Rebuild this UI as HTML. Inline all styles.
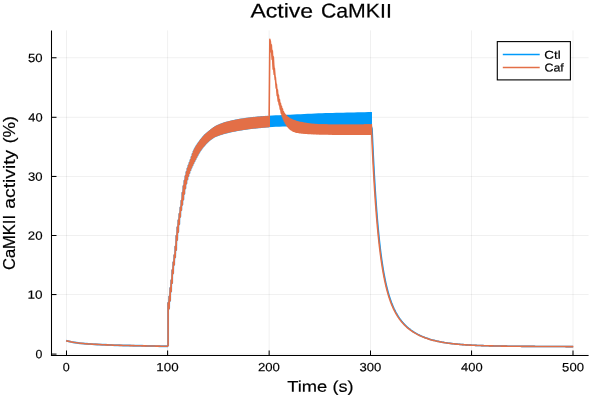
<!DOCTYPE html>
<html><head><meta charset="utf-8"><title>Active CaMKII</title>
<style>html,body{margin:0;padding:0;background:#fff;width:600px;height:400px;overflow:hidden}svg text{font-family:"Liberation Sans",sans-serif}</style>
</head><body>
<svg width="600" height="400" viewBox="0 0 600 400" style="display:block;will-change:transform">
<rect x="0" y="0" width="600" height="400" fill="#ffffff"/>
<line x1="66.5" y1="30.4" x2="66.5" y2="355.4" stroke="#000000" stroke-opacity="0.06" stroke-width="1"/>
<line x1="167.6" y1="30.4" x2="167.6" y2="355.4" stroke="#000000" stroke-opacity="0.06" stroke-width="1"/>
<line x1="269.15" y1="30.4" x2="269.15" y2="355.4" stroke="#000000" stroke-opacity="0.06" stroke-width="1"/>
<line x1="370.5" y1="30.4" x2="370.5" y2="355.4" stroke="#000000" stroke-opacity="0.06" stroke-width="1"/>
<line x1="471.55" y1="30.4" x2="471.55" y2="355.4" stroke="#000000" stroke-opacity="0.06" stroke-width="1"/>
<line x1="573.0" y1="30.4" x2="573.0" y2="355.4" stroke="#000000" stroke-opacity="0.06" stroke-width="1"/>
<line x1="51.5" y1="354.1" x2="588.6" y2="354.1" stroke="#000000" stroke-opacity="0.06" stroke-width="1"/>
<line x1="51.5" y1="294.55" x2="588.6" y2="294.55" stroke="#000000" stroke-opacity="0.06" stroke-width="1"/>
<line x1="51.5" y1="235.5" x2="588.6" y2="235.5" stroke="#000000" stroke-opacity="0.06" stroke-width="1"/>
<line x1="51.5" y1="176.45" x2="588.6" y2="176.45" stroke="#000000" stroke-opacity="0.06" stroke-width="1"/>
<line x1="51.5" y1="117.3" x2="588.6" y2="117.3" stroke="#000000" stroke-opacity="0.06" stroke-width="1"/>
<line x1="51.5" y1="57.75" x2="588.6" y2="57.75" stroke="#000000" stroke-opacity="0.06" stroke-width="1"/>
<g fill="none" stroke-linejoin="round" stroke-linecap="butt">
<path d="M66.10,340.70 L67.83,341.11 L69.56,341.49 L71.29,341.85 L73.02,342.17 L74.74,342.46 L76.47,342.72 L78.20,342.96 L79.93,343.18 L81.66,343.38 L83.39,343.56 L85.12,343.71 L86.85,343.84 L88.57,343.95 L90.30,344.05 L92.03,344.14 L93.76,344.23 L95.49,344.33 L97.22,344.42 L98.95,344.51 L100.68,344.60 L102.41,344.68 L104.13,344.76 L105.86,344.84 L107.59,344.91 L109.32,344.99 L111.05,345.06 L112.78,345.12 L114.51,345.18 L116.24,345.24 L117.96,345.29 L119.69,345.34 L121.42,345.38 L123.15,345.43 L124.88,345.47 L126.61,345.51 L128.34,345.55 L130.07,345.59 L131.79,345.63 L133.52,345.67 L135.25,345.70 L136.98,345.74 L138.71,345.77 L140.44,345.81 L142.17,345.84 L143.90,345.88 L145.63,345.91 L147.35,345.95 L149.08,345.98 L150.81,346.01 L152.54,346.04 L154.27,346.07 L156.00,346.11 L157.73,346.14 L159.46,346.16 L161.18,346.19 L162.91,346.22 L164.64,346.25 L166.37,346.27 L168.10,346.30" stroke="#009AFA" stroke-width="1.9500000000000002" stroke-opacity="0.8"/>
<path d="M168.10,346.30 L168.10,302.93 L169.11,308.60 L169.23,296.47 L170.13,300.74 L170.25,287.99 L171.14,291.55 L171.26,280.21 L172.15,283.11 L172.27,270.10 L173.17,273.36 L173.29,262.20 L174.18,264.66 L174.30,255.13 L175.20,257.30 L175.32,246.55 L176.21,250.05 L176.33,235.70 L177.22,239.94 L177.34,227.25 L178.24,232.09 L178.36,220.22 L179.25,224.24 L179.37,213.87 L180.26,216.81 L180.38,207.46 L181.28,210.20 L181.40,200.65 L182.29,204.71 L182.41,192.70 L183.30,199.47 L183.42,186.12 L184.32,193.71 L184.44,180.78 L185.33,188.36 L185.45,176.08 L186.34,183.52 L186.46,171.98 L187.36,179.38 L187.48,168.48 L188.37,175.94 L188.49,165.55 L189.39,172.91 L189.51,162.81 L190.40,170.17 L190.52,160.02 L191.41,167.68 L191.53,157.00 L192.43,165.43 L192.55,153.98 L193.44,163.33 L193.56,151.34 L194.45,161.31 L194.57,149.18 L195.47,159.33 L195.59,147.36 L196.48,157.35 L196.60,145.73 L197.49,155.42 L197.61,144.22 L198.51,153.56 L198.63,142.78 L199.52,151.81 L199.64,141.39 L200.53,150.19 L200.65,140.03 L201.55,148.71 L201.67,138.72 L202.56,147.37 L202.68,137.49 L203.58,146.12 L203.70,136.35 L204.59,144.96 L204.71,135.29 L205.60,143.85 L205.72,134.33 L206.62,142.78 L206.74,133.43 L207.63,141.77 L207.75,132.58 L208.64,140.83 L208.76,131.76 L209.66,139.96 L209.78,130.95 L210.67,139.16 L210.79,130.15 L211.68,138.42 L211.80,129.36 L212.70,137.73 L212.82,128.58 L213.71,137.11 L213.83,127.85 L214.72,136.57 L214.84,127.20 L215.74,136.09 L215.86,126.62 L216.75,135.66 L216.87,126.10 L217.77,135.27 L217.89,125.64 L218.78,134.90 L218.90,125.20 L219.79,134.55 L219.91,124.78 L220.81,134.21 L220.93,124.37 L221.82,133.90 L221.94,123.98 L222.83,133.60 L222.95,123.60 L223.85,133.31 L223.97,123.25 L224.86,133.03 L224.98,122.92 L225.87,132.75 L225.99,122.62 L226.89,132.47 L227.01,122.34 L227.90,132.20 L228.02,122.08 L228.91,131.95 L229.03,121.83 L229.93,131.72 L230.05,121.59 L230.94,131.50 L231.06,121.36 L231.96,131.28 L232.08,121.13 L232.97,131.08 L233.09,120.91 L233.98,130.88 L234.10,120.70 L235.00,130.69 L235.12,120.49 L236.01,130.50 L236.13,120.29 L237.02,130.32 L237.14,120.10 L238.04,130.14 L238.16,119.91 L239.05,129.97 L239.17,119.73 L240.06,129.80 L240.18,119.56 L241.08,129.63 L241.20,119.40 L242.09,129.47 L242.21,119.24 L243.10,129.30 L243.22,119.08 L244.12,129.14 L244.24,118.94 L245.13,128.99 L245.25,118.79 L246.15,128.84 L246.27,118.65 L247.16,128.69 L247.28,118.52 L248.17,128.55 L248.29,118.39 L249.19,128.42 L249.31,118.27 L250.20,128.29 L250.32,118.15 L251.21,128.16 L251.33,118.03 L252.23,128.04 L252.35,117.92 L253.24,127.92 L253.36,117.81 L254.25,127.81 L254.37,117.71 L255.27,127.69 L255.39,117.60 L256.28,127.59 L256.40,117.50 L257.30,127.48 L257.42,117.41 L258.31,127.38 L258.43,117.32 L259.32,127.28 L259.44,117.23 L260.34,127.19 L260.46,117.14 L261.35,127.09 L261.47,117.06 L262.36,127.00 L262.48,116.98 L263.38,126.92 L263.50,116.91 L264.39,126.83 L264.51,116.83 L265.40,126.75 L265.52,116.76 L266.42,126.67 L266.54,116.69 L267.43,126.59 L267.55,116.62 L268.44,126.52 L268.56,116.56" stroke="#009AFA" stroke-width="1.9000000000000001" stroke-opacity="0.8"/>
<path d="M268.70,115.70 L272.26,115.52 L275.81,115.33 L279.37,115.15 L282.92,114.98 L286.48,114.80 L290.03,114.63 L293.59,114.47 L297.14,114.30 L300.70,114.13 L304.25,113.96 L307.81,113.80 L311.36,113.64 L314.92,113.49 L318.47,113.35 L322.03,113.23 L325.58,113.12 L329.14,113.01 L332.69,112.92 L336.25,112.82 L339.80,112.73 L343.36,112.64 L346.91,112.55 L350.47,112.47 L354.02,112.38 L357.58,112.30 L361.13,112.22 L364.69,112.14 L368.24,112.07 L371.80,112.00 L371.80,125.50 L368.24,125.53 L364.69,125.55 L361.13,125.58 L357.58,125.61 L354.02,125.64 L350.47,125.68 L346.91,125.71 L343.36,125.74 L339.80,125.78 L336.25,125.82 L332.69,125.86 L329.14,125.90 L325.58,125.94 L322.03,125.98 L318.47,126.02 L314.92,126.06 L311.36,126.10 L307.81,126.14 L304.25,126.18 L300.70,126.22 L297.14,126.28 L293.59,126.33 L290.03,126.39 L286.48,126.47 L282.92,126.56 L279.37,126.68 L275.81,126.84 L272.26,127.02 L268.70,127.20Z" fill="#009AFA" stroke="none"/>
<path d="M371.10,112.30 L371.10,126.00 L372.04,128.73 L372.24,133.25 L372.43,137.66 L372.62,141.96 L372.81,146.14 L373.01,150.22 L373.20,154.20 L373.39,158.07 L373.58,161.85 L373.78,165.53 L373.97,169.12 L374.16,172.62 L374.35,176.03 L374.55,179.36 L374.74,182.60 L374.93,185.77 L375.12,188.85 L375.32,191.86 L375.51,194.80 L375.70,197.66 L375.89,200.45 L376.09,203.18 L376.28,205.84 L376.47,208.43 L376.67,210.96 L376.86,213.43 L377.05,215.84 L377.24,218.20 L377.44,220.49 L377.63,222.74 L377.82,224.93 L378.01,227.06 L378.21,229.15 L378.40,231.19 L378.59,233.18 L378.78,235.12 L378.98,237.02 L379.17,238.88 L379.36,240.69 L379.55,242.46 L379.75,244.19 L379.94,245.88 L380.13,247.53 L380.33,249.15 L380.52,250.73 L380.71,252.27 L380.90,253.78 L381.10,255.26 L381.29,256.70 L381.48,258.11 L381.67,259.49 L381.87,260.84 L382.06,262.16 L382.25,263.45 L382.44,264.72 L382.64,265.95 L382.83,267.17 L383.02,268.35 L383.21,269.51 L383.41,270.65 L383.60,271.76 L383.79,272.84 L383.98,273.91 L384.18,274.95 L384.37,275.98 L384.56,276.98 L384.76,277.96 L384.95,278.92 L385.14,279.86 L385.33,280.79 L385.53,281.69 L385.72,282.58 L385.91,283.45 L386.10,284.30 L386.30,285.13 L386.49,285.95 L386.68,286.76 L386.87,287.54 L387.07,288.32 L387.26,289.08 L387.45,289.82 L387.64,290.55 L387.84,291.27 L388.03,291.97 L388.22,292.66 L388.42,293.34 L388.61,294.00 L388.80,294.66 L388.99,295.30 L389.19,295.93 L389.38,296.55 L389.57,297.15 L389.76,297.75 L389.96,298.34 L390.15,298.91 L390.34,299.48 L390.53,300.04 L390.73,300.59 L390.92,301.12 L391.11,301.65 L391.30,302.17 L391.50,302.68 L391.69,303.19 L391.88,303.68 L392.07,304.17 L392.27,304.65 L392.46,305.12 L392.65,305.58 L392.85,306.04 L393.04,306.49 L393.23,306.93 L393.42,307.36 L393.62,307.79 L393.81,308.21 L394.00,308.63 L394.19,309.04 L394.39,309.44 L394.58,309.84 L394.77,310.23 L394.96,310.61 L395.16,310.99 L395.35,311.37 L395.54,311.73 L395.73,312.10 L395.93,312.45 L396.12,312.81 L396.31,313.15 L396.51,313.50 L396.70,313.84 L396.89,314.17 L397.08,314.50 L397.28,314.82 L397.47,315.14 L397.66,315.46 L397.85,315.77 L398.05,316.07 L398.24,316.38 L398.43,316.67 L398.62,316.97 L398.82,317.26 L399.01,317.55 L399.20,317.83 L399.39,318.11 L399.59,318.39 L399.78,318.66 L399.97,318.93 L400.16,319.19 L400.36,319.45 L400.55,319.71 L400.85,320.11 L401.72,321.22 L402.59,322.27 L403.46,323.27 L404.33,324.21 L405.20,325.11 L406.07,325.96 L406.94,326.78 L407.81,327.55 L408.68,328.29 L409.55,329.00 L410.42,329.67 L411.29,330.32 L412.16,330.94 L413.03,331.53 L413.90,332.09 L414.77,332.63 L415.64,333.15 L416.51,333.65 L417.38,334.13 L418.25,334.59 L419.12,335.03 L419.99,335.45 L420.86,335.86 L421.73,336.25 L422.60,336.62 L423.47,336.98 L424.34,337.33 L425.21,337.66 L426.08,337.98 L426.95,338.29 L427.82,338.59 L428.69,338.88 L429.56,339.15 L430.42,339.41 L431.29,339.67 L432.16,339.91 L433.03,340.15 L433.90,340.38 L434.77,340.59 L435.64,340.81 L436.51,341.01 L437.38,341.20 L438.25,341.39 L439.12,341.57 L439.99,341.75 L440.86,341.91 L441.73,342.08 L442.60,342.23 L443.47,342.38 L444.34,342.53 L445.21,342.67 L446.08,342.80 L446.95,342.93 L447.82,343.05 L448.69,343.17 L449.56,343.29 L450.43,343.40 L451.30,343.51 L452.17,343.61 L453.04,343.71 L453.91,343.81 L454.78,343.90 L455.65,343.99 L456.52,344.08 L457.39,344.16 L458.26,344.24 L459.13,344.32 L460.00,344.39 L460.87,344.47 L461.74,344.53 L462.61,344.60 L463.48,344.67 L464.35,344.73 L465.22,344.79 L466.09,344.85 L466.96,344.90 L467.83,344.96 L468.70,345.01 L469.57,345.06 L470.44,345.11 L471.31,345.15 L472.18,345.20 L473.05,345.24 L473.92,345.28 L474.79,345.32 L475.66,345.36 L476.53,345.40 L477.40,345.44 L478.27,345.47 L479.14,345.51 L480.01,345.54 L480.88,345.57 L481.75,345.60 L482.62,345.63 L483.49,345.66 L484.36,345.69 L485.23,345.72 L486.10,345.74 L486.97,345.77 L487.83,345.79 L488.70,345.81 L489.57,345.84 L490.44,345.86 L491.31,345.88 L492.18,345.90 L493.05,345.92 L493.92,345.94 L494.79,345.96 L495.66,345.98 L496.53,345.99 L497.40,346.01 L498.27,346.03 L499.14,346.04 L500.01,346.06 L500.88,346.07 L501.75,346.09 L502.62,346.10 L503.49,346.12 L504.36,346.13 L505.23,346.14 L506.10,346.15 L506.97,346.17 L507.84,346.18 L508.71,346.19 L509.58,346.20 L510.45,346.21 L511.32,346.22 L512.19,346.23 L513.06,346.24 L513.93,346.25 L514.80,346.26 L515.67,346.27 L516.54,346.28 L517.41,346.29 L518.28,346.30 L519.15,346.30 L520.02,346.31 L520.89,346.32 L521.76,346.33 L522.63,346.34 L523.50,346.34 L524.37,346.35 L525.24,346.36 L526.11,346.36 L526.98,346.37 L527.85,346.38 L528.72,346.38 L529.59,346.39 L530.46,346.40 L531.33,346.40 L532.20,346.41 L533.07,346.41 L533.94,346.42 L534.81,346.42 L535.68,346.43 L536.55,346.44 L537.42,346.44 L538.29,346.45 L539.16,346.45 L540.03,346.46 L540.90,346.46 L541.77,346.47 L542.64,346.47 L543.51,346.47 L544.38,346.48 L545.24,346.48 L546.11,346.49 L546.98,346.49 L547.85,346.50 L548.72,346.50 L549.59,346.51 L550.46,346.51 L551.33,346.51 L552.20,346.52 L553.07,346.52 L553.94,346.53 L554.81,346.53 L555.68,346.53 L556.55,346.54 L557.42,346.54 L558.29,346.55 L559.16,346.55 L560.03,346.55 L560.90,346.56 L561.77,346.56 L562.64,346.56 L563.51,346.57 L564.38,346.57 L565.25,346.57 L566.12,346.58 L566.99,346.58 L567.86,346.58 L568.73,346.59 L569.60,346.59 L570.47,346.59 L571.34,346.60 L572.21,346.60 L573.08,346.60" stroke="#009AFA" stroke-width="1.6"/>
<path d="M66.10,340.70 L67.83,341.11 L69.56,341.49 L71.29,341.85 L73.02,342.17 L74.74,342.46 L76.47,342.72 L78.20,342.96 L79.93,343.18 L81.66,343.38 L83.39,343.56 L85.12,343.71 L86.85,343.84 L88.57,343.95 L90.30,344.05 L92.03,344.14 L93.76,344.23 L95.49,344.33 L97.22,344.42 L98.95,344.51 L100.68,344.60 L102.41,344.68 L104.13,344.76 L105.86,344.84 L107.59,344.91 L109.32,344.99 L111.05,345.06 L112.78,345.12 L114.51,345.18 L116.24,345.24 L117.96,345.29 L119.69,345.34 L121.42,345.38 L123.15,345.43 L124.88,345.47 L126.61,345.51 L128.34,345.55 L130.07,345.59 L131.79,345.63 L133.52,345.67 L135.25,345.70 L136.98,345.74 L138.71,345.77 L140.44,345.81 L142.17,345.84 L143.90,345.88 L145.63,345.91 L147.35,345.95 L149.08,345.98 L150.81,346.01 L152.54,346.04 L154.27,346.07 L156.00,346.11 L157.73,346.14 L159.46,346.16 L161.18,346.19 L162.91,346.22 L164.64,346.25 L166.37,346.27 L168.10,346.30" stroke="#E36F47" stroke-width="1.6"/>
<path d="M167.98,328.57 L167.98,327.12 L167.98,325.68 L167.98,324.23 L167.98,322.79 L167.98,321.35 L167.98,319.91 L167.98,318.47 L167.98,317.03 L167.98,315.59 L167.98,314.16 L167.98,312.72 L167.98,311.28 L167.98,309.85 L167.98,308.41 L167.98,306.98 L167.98,305.56 L168.02,304.19 L168.24,302.83 L168.54,301.41 L168.79,299.96 L168.99,298.51 L169.16,297.07 L169.33,295.63 L169.50,294.19 L169.66,292.76 L169.82,291.32 L170.00,289.89 L170.18,288.47 L170.38,287.04 L170.57,285.61 L170.76,284.17 L170.95,282.74 L171.13,281.30 L171.30,279.86 L171.45,278.41 L171.60,276.97 L171.73,275.53 L171.87,274.09 L172.01,272.66 L172.15,271.23 L172.31,269.80 L172.48,268.37 L172.66,266.94 L172.84,265.51 L173.03,264.08 L173.23,262.65 L173.42,261.22 L173.62,259.79 L173.82,258.36 L174.03,256.94 L174.24,255.51 L174.46,254.07 L174.66,252.64 L174.85,251.19 L175.01,249.75 L175.16,248.30 L175.29,246.86 L175.41,245.42 L175.53,243.98 L175.65,242.54 L175.78,241.10 L175.92,239.67 L176.06,238.24 L176.21,236.80 L176.36,235.37 L176.52,233.93 L176.69,232.50 L176.86,231.07 L177.03,229.64 L177.21,228.21 L177.41,226.78 L177.60,225.36 L177.81,223.93 L178.02,222.50 L178.23,221.07 L178.44,219.65 L178.66,218.22 L178.89,216.80 L179.12,215.38 L179.36,213.95 L179.59,212.52 L179.82,211.09 L180.04,209.67 L180.26,208.24 L180.48,206.81 L180.70,205.38 L180.92,203.95 L181.13,202.52 L181.34,201.08 L181.54,199.65 L181.72,198.21 L181.90,196.77 L182.08,195.34 L182.26,193.91 L182.44,192.48 L182.63,191.06 L182.84,189.64 L183.07,188.22 L183.31,186.80 L183.56,185.38 L183.82,183.96 L184.09,182.55 L184.36,181.14 L184.65,179.73 L184.95,178.32 L185.26,176.91 L185.58,175.51 L185.92,174.11 L186.27,172.72 L186.64,171.34 L187.02,169.96 L187.44,168.60 L187.89,167.25 L188.37,165.90 L188.86,164.54 L189.36,163.19 L189.87,161.83 L190.36,160.46 L190.84,159.09 L191.30,157.70 L191.76,156.32 L192.21,154.94 L192.68,153.59 L193.18,152.26 L193.72,150.97 L194.30,149.71 L194.95,148.47 L195.65,147.25 L196.41,146.03 L197.20,144.83 L198.02,143.64 L198.86,142.47 L199.71,141.30 L200.56,140.15 L201.43,139.02 L202.33,137.91 L203.26,136.83 L204.22,135.79 L205.21,134.81 L206.25,133.85 L207.34,132.92 L208.45,132.01 L209.58,131.11 L210.71,130.22 L211.84,129.32 L212.99,128.46 L214.14,127.65 L215.32,126.92 L216.54,126.27 L217.82,125.66 L219.14,125.10 L220.47,124.55 L221.80,124.03 L223.14,123.54 L224.49,123.08 L225.84,122.66 L227.22,122.28 L228.61,121.93 L230.00,121.60 L231.40,121.28 L232.81,120.97 L234.22,120.68 L235.63,120.39 L237.04,120.12 L238.45,119.86 L239.87,119.61 L241.29,119.38 L242.71,119.16 L244.13,118.95 L245.56,118.75 L246.99,118.56 L248.41,118.38 L249.84,118.20 L251.27,118.04 L252.71,117.88 L254.14,117.73 L255.57,117.58 L257.01,117.45 L258.44,117.32 L259.88,117.19 L261.32,117.08 L262.75,116.96 L264.19,116.85 L265.63,116.75 L267.07,116.65 L268.50,116.56 L269.95,116.48 L269.85,126.42 L268.46,126.52 L267.08,126.62 L265.69,126.72 L264.31,126.84 L262.93,126.95 L261.55,127.08 L260.16,127.20 L258.78,127.33 L257.40,127.47 L256.02,127.61 L254.64,127.76 L253.26,127.92 L251.88,128.08 L250.50,128.25 L249.12,128.43 L247.75,128.61 L246.37,128.81 L244.99,129.01 L243.62,129.22 L242.25,129.44 L240.88,129.66 L239.51,129.89 L238.14,130.12 L236.77,130.36 L235.41,130.61 L234.04,130.87 L232.67,131.14 L231.31,131.42 L229.95,131.71 L228.58,132.03 L227.23,132.38 L225.88,132.75 L224.55,133.12 L223.21,133.49 L221.87,133.88 L220.53,134.30 L219.20,134.75 L217.88,135.23 L216.55,135.74 L215.25,136.31 L213.99,136.96 L212.75,137.69 L211.57,138.50 L210.43,139.35 L209.33,140.23 L208.27,141.17 L207.24,142.15 L206.25,143.16 L205.29,144.18 L204.35,145.22 L203.44,146.29 L202.54,147.39 L201.69,148.52 L200.88,149.67 L200.12,150.84 L199.39,152.03 L198.68,153.25 L198.00,154.47 L197.34,155.71 L196.69,156.94 L196.05,158.18 L195.42,159.42 L194.79,160.65 L194.16,161.89 L193.54,163.14 L192.92,164.39 L192.32,165.66 L191.74,166.93 L191.18,168.21 L190.66,169.51 L190.16,170.80 L189.67,172.11 L189.20,173.43 L188.75,174.76 L188.32,176.09 L187.91,177.43 L187.53,178.77 L187.16,180.12 L186.82,181.47 L186.50,182.82 L186.20,184.18 L185.90,185.55 L185.62,186.91 L185.35,188.27 L185.08,189.63 L184.81,191.00 L184.56,192.37 L184.31,193.73 L184.07,195.10 L183.84,196.46 L183.60,197.83 L183.36,199.19 L183.11,200.54 L182.84,201.90 L182.58,203.26 L182.31,204.62 L182.04,205.98 L181.78,207.34 L181.53,208.71 L181.30,210.08 L181.07,211.45 L180.85,212.83 L180.65,214.20 L180.44,215.57 L180.24,216.95 L180.05,218.32 L179.86,219.69 L179.67,221.07 L179.48,222.44 L179.30,223.82 L179.13,225.19 L178.95,226.57 L178.78,227.94 L178.60,229.31 L178.42,230.68 L178.24,232.05 L178.05,233.43 L177.87,234.80 L177.69,236.18 L177.51,237.55 L177.34,238.93 L177.18,240.32 L177.03,241.70 L176.90,243.08 L176.77,244.46 L176.64,245.84 L176.51,247.22 L176.37,248.59 L176.22,249.96 L176.05,251.32 L175.87,252.69 L175.67,254.05 L175.47,255.42 L175.27,256.79 L175.07,258.17 L174.88,259.54 L174.69,260.92 L174.50,262.29 L174.32,263.66 L174.13,265.04 L173.95,266.41 L173.78,267.79 L173.61,269.17 L173.45,270.55 L173.31,271.93 L173.17,273.32 L173.04,274.70 L172.91,276.08 L172.78,277.45 L172.64,278.83 L172.49,280.20 L172.34,281.57 L172.17,282.94 L172.01,284.31 L171.84,285.69 L171.67,287.06 L171.50,288.44 L171.34,289.82 L171.18,291.20 L171.03,292.58 L170.88,293.95 L170.73,295.33 L170.58,296.71 L170.43,298.08 L170.28,299.46 L170.12,300.83 L169.95,302.20 L169.79,303.58 L169.61,304.95 L169.44,306.32 L169.26,307.68 L169.04,309.03 L168.78,310.39 L168.52,311.78 L168.35,313.21 L168.32,314.63 L168.31,316.01 L168.30,317.39 L168.29,318.77 L168.28,320.15 L168.27,321.52 L168.27,322.90 L168.26,324.28 L168.25,325.67 L168.25,327.05 L168.24,328.43 L168.24,329.81Z" fill="#E36F47" stroke="none"/>
<path d="M168.10,346.30 L168.10,302.93 L169.11,308.60 L169.23,296.47 L170.13,300.74 L170.25,287.99 L171.14,291.55 L171.26,280.21 L172.15,283.11 L172.27,270.10 L173.17,273.36 L173.29,262.20 L174.18,264.66 L174.30,255.13 L175.20,257.30 L175.32,246.55 L176.21,250.05 L176.33,235.70 L177.22,239.94 L177.34,227.25 L178.24,232.09 L178.36,220.22 L179.25,224.24 L179.37,213.87 L180.26,216.81 L180.38,207.46 L181.28,210.20 L181.40,200.65 L182.29,204.71 L182.41,192.70 L183.30,199.47 L183.42,186.12 L184.32,193.71 L184.44,180.78 L185.33,188.36 L185.45,176.08 L186.34,183.52 L186.46,171.98 L187.36,179.38 L187.48,168.48 L188.37,175.94 L188.49,165.55 L189.39,172.91 L189.51,162.81 L190.40,170.17 L190.52,160.02 L191.41,167.68 L191.53,157.00 L192.43,165.43 L192.55,153.98 L193.44,163.33 L193.56,151.34 L194.45,161.31 L194.57,149.18 L195.47,159.33 L195.59,147.36 L196.48,157.35 L196.60,145.73 L197.49,155.42 L197.61,144.22 L198.51,153.56 L198.63,142.78 L199.52,151.81 L199.64,141.39 L200.53,150.19 L200.65,140.03 L201.55,148.71 L201.67,138.72 L202.56,147.37 L202.68,137.49 L203.58,146.12 L203.70,136.35 L204.59,144.96 L204.71,135.29 L205.60,143.85 L205.72,134.33 L206.62,142.78 L206.74,133.43 L207.63,141.77 L207.75,132.58 L208.64,140.83 L208.76,131.76 L209.66,139.96 L209.78,130.95 L210.67,139.16 L210.79,130.15 L211.68,138.42 L211.80,129.36 L212.70,137.73 L212.82,128.58 L213.71,137.11 L213.83,127.85 L214.72,136.57 L214.84,127.20 L215.74,136.09 L215.86,126.62 L216.75,135.66 L216.87,126.10 L217.77,135.27 L217.89,125.64 L218.78,134.90 L218.90,125.20 L219.79,134.55 L219.91,124.78 L220.81,134.21 L220.93,124.37 L221.82,133.90 L221.94,123.98 L222.83,133.60 L222.95,123.60 L223.85,133.31 L223.97,123.25 L224.86,133.03 L224.98,122.92 L225.87,132.75 L225.99,122.62 L226.89,132.47 L227.01,122.34 L227.90,132.20 L228.02,122.08 L228.91,131.95 L229.03,121.83 L229.93,131.72 L230.05,121.59 L230.94,131.50 L231.06,121.36 L231.96,131.28 L232.08,121.13 L232.97,131.08 L233.09,120.91 L233.98,130.88 L234.10,120.70 L235.00,130.69 L235.12,120.49 L236.01,130.50 L236.13,120.29 L237.02,130.32 L237.14,120.10 L238.04,130.14 L238.16,119.91 L239.05,129.97 L239.17,119.73 L240.06,129.80 L240.18,119.56 L241.08,129.63 L241.20,119.40 L242.09,129.47 L242.21,119.24 L243.10,129.30 L243.22,119.08 L244.12,129.14 L244.24,118.94 L245.13,128.99 L245.25,118.79 L246.15,128.84 L246.27,118.65 L247.16,128.69 L247.28,118.52 L248.17,128.55 L248.29,118.39 L249.19,128.42 L249.31,118.27 L250.20,128.29 L250.32,118.15 L251.21,128.16 L251.33,118.03 L252.23,128.04 L252.35,117.92 L253.24,127.92 L253.36,117.81 L254.25,127.81 L254.37,117.71 L255.27,127.69 L255.39,117.60 L256.28,127.59 L256.40,117.50 L257.30,127.48 L257.42,117.41 L258.31,127.38 L258.43,117.32 L259.32,127.28 L259.44,117.23 L260.34,127.19 L260.46,117.14 L261.35,127.09 L261.47,117.06 L262.36,127.00 L262.48,116.98 L263.38,126.92 L263.50,116.91 L264.39,126.83 L264.51,116.83 L265.40,126.75 L265.52,116.76 L266.42,126.67 L266.54,116.69 L267.43,126.59 L267.55,116.62 L268.44,126.52 L268.56,116.56" stroke="#E36F47" stroke-width="1.6" stroke-linejoin="round"/>
<path d="M269.58,39.01 L269.80,39.51 L270.00,40.00 L270.18,40.50 L270.34,41.00 L270.49,41.51 L270.64,42.03 L270.77,42.56 L270.90,43.09 L271.03,43.62 L271.15,44.15 L271.26,44.69 L271.37,45.22 L271.48,45.76 L271.58,46.30 L271.68,46.84 L271.77,47.38 L271.87,47.92 L271.96,48.46 L272.04,49.00 L272.13,49.55 L272.21,50.09 L272.30,50.64 L272.38,51.19 L272.47,51.74 L272.56,52.29 L272.65,52.84 L272.74,53.39 L272.83,53.93 L272.93,54.48 L273.02,55.02 L273.11,55.56 L273.20,56.11 L273.28,56.65 L273.36,57.18 L273.43,57.72 L273.49,58.26 L273.55,58.80 L273.61,59.35 L273.66,59.90 L273.71,60.44 L273.76,60.99 L273.80,61.54 L273.84,62.09 L273.89,62.64 L273.93,63.19 L273.97,63.74 L274.01,64.30 L274.05,64.85 L274.09,65.40 L274.14,65.96 L274.18,66.51 L274.23,67.07 L274.28,67.62 L274.33,68.18 L274.39,68.73 L274.44,69.28 L274.50,69.83 L274.56,70.38 L274.61,70.93 L274.67,71.49 L274.73,72.04 L274.79,72.59 L274.85,73.14 L274.92,73.69 L274.98,74.24 L275.05,74.79 L275.11,75.35 L275.18,75.90 L275.25,76.45 L275.32,77.00 L275.39,77.55 L275.46,78.10 L275.53,78.65 L275.60,79.20 L275.68,79.75 L275.75,80.30 L275.83,80.85 L275.91,81.40 L276.00,81.95 L276.08,82.50 L276.17,83.05 L276.26,83.60 L276.35,84.15 L276.44,84.69 L276.54,85.24 L276.64,85.79 L276.73,86.34 L276.83,86.88 L276.93,87.43 L277.03,87.97 L277.13,88.52 L277.23,89.06 L277.33,89.61 L277.44,90.15 L277.54,90.70 L277.64,91.24 L277.74,91.79 L277.85,92.33 L277.95,92.88 L278.06,93.42 L278.16,93.97 L278.27,94.51 L278.38,95.06 L278.49,95.60 L278.61,96.15 L278.73,96.69 L278.84,97.24 L278.97,97.78 L279.09,98.33 L279.22,98.87 L279.35,99.41 L279.48,99.95 L279.62,100.49 L279.77,101.03 L279.91,101.57 L280.07,102.11 L280.23,102.65 L280.39,103.18 L280.56,103.72 L280.73,104.25 L280.91,104.78 L281.08,105.31 L281.26,105.84 L281.45,106.37 L281.63,106.89 L281.82,107.41 L282.01,107.93 L282.19,108.46 L282.38,108.99 L282.58,109.53 L282.78,110.06 L282.99,110.60 L283.20,111.13 L283.43,111.65 L283.67,112.17 L283.93,112.68 L284.20,113.17 L284.49,113.66 L284.81,114.15 L285.16,114.63 L285.53,115.09 L285.92,115.55 L286.32,115.98 L286.73,116.40 L287.16,116.80 L287.59,117.17 L288.03,117.53 L288.49,117.88 L288.97,118.21 L289.47,118.53 L289.97,118.84 L290.48,119.13 L291.00,119.39 L291.52,119.64 L292.04,119.87 L292.55,120.08 L293.07,120.28 L293.60,120.48 L294.13,120.67 L294.67,120.85 L295.21,121.03 L295.75,121.20 L296.30,121.36 L296.85,121.52 L297.39,121.67 L297.94,121.81 L298.49,121.95 L299.03,122.08 L299.58,122.20 L300.12,122.33 L300.66,122.44 L301.21,122.56 L301.75,122.67 L302.30,122.78 L302.85,122.89 L303.39,123.00 L303.94,123.10 L304.49,123.20 L305.05,123.29 L305.60,123.38 L306.15,123.47 L306.70,123.56 L307.26,123.64 L307.81,123.72 L308.37,123.79 L308.92,123.86 L309.48,123.93 L310.03,123.99 L310.58,124.05 L311.13,124.11 L311.68,124.17 L312.23,124.22 L312.79,124.28 L313.34,124.34 L313.89,124.39 L314.45,124.44 L315.00,124.49 L315.56,124.54 L316.12,124.58 L316.67,124.62 L317.23,124.66 L317.79,124.69 L318.35,124.72 L318.91,124.75 L319.47,124.77 L320.02,124.78 L320.58,124.79 L321.13,124.81 L321.68,124.82 L322.24,124.83 L322.79,124.84 L323.34,124.85 L323.90,124.86 L324.45,124.88 L325.00,124.89 L325.56,124.90 L326.11,124.91 L326.66,124.92 L327.22,124.93 L327.77,124.94 L328.32,124.94 L328.88,124.95 L329.43,124.96 L329.98,124.97 L330.54,124.98 L331.09,124.98 L331.65,124.99 L332.20,125.00 L332.75,125.01 L333.31,125.01 L333.86,125.02 L334.42,125.02 L334.97,125.03 L335.52,125.04 L336.08,125.04 L336.63,125.05 L337.19,125.05 L337.74,125.05 L338.29,125.06 L338.85,125.06 L339.40,125.06 L339.96,125.07 L340.51,125.07 L341.06,125.07 L341.62,125.07 L342.17,125.08 L342.73,125.08 L343.28,125.08 L343.83,125.08 L344.39,125.08 L344.94,125.08 L345.50,125.08 L346.05,125.08 L346.60,125.08 L347.16,125.08 L347.71,125.08 L348.26,125.08 L348.82,125.07 L349.37,125.07 L349.92,125.07 L350.48,125.07 L351.03,125.07 L351.59,125.06 L352.14,125.06 L352.69,125.06 L353.25,125.05 L353.80,125.05 L354.35,125.04 L354.91,125.04 L355.46,125.03 L356.01,125.03 L356.57,125.02 L357.12,125.02 L357.68,125.01 L358.23,125.01 L358.78,125.00 L359.34,124.99 L359.89,124.99 L360.44,124.98 L361.00,124.97 L361.55,124.97 L362.11,124.96 L362.66,124.95 L363.21,124.94 L363.77,124.93 L364.32,124.92 L364.87,124.91 L365.43,124.90 L365.98,124.89 L366.53,124.88 L367.09,124.87 L367.64,124.86 L368.20,124.85 L368.75,124.84 L369.30,124.83 L369.86,124.82 L370.41,124.81 L370.96,124.79 L371.52,124.78 L371.50,134.22 L370.95,134.22 L370.40,134.22 L369.85,134.22 L369.30,134.22 L368.75,134.22 L368.20,134.22 L367.65,134.22 L367.10,134.22 L366.55,134.22 L366.00,134.22 L365.45,134.22 L364.90,134.22 L364.35,134.22 L363.80,134.22 L363.25,134.22 L362.70,134.22 L362.15,134.22 L361.60,134.22 L361.05,134.22 L360.50,134.22 L359.95,134.22 L359.40,134.22 L358.85,134.22 L358.30,134.22 L357.75,134.22 L357.20,134.22 L356.65,134.22 L356.10,134.22 L355.55,134.22 L355.00,134.22 L354.45,134.22 L353.90,134.22 L353.35,134.22 L352.80,134.22 L352.25,134.22 L351.70,134.22 L351.15,134.22 L350.60,134.22 L350.05,134.22 L349.50,134.22 L348.95,134.22 L348.40,134.22 L347.85,134.22 L347.30,134.22 L346.75,134.22 L346.20,134.22 L345.65,134.22 L345.10,134.22 L344.56,134.22 L344.01,134.22 L343.46,134.22 L342.91,134.22 L342.36,134.22 L341.81,134.21 L341.26,134.21 L340.71,134.21 L340.16,134.21 L339.61,134.20 L339.06,134.20 L338.51,134.19 L337.96,134.19 L337.41,134.19 L336.86,134.18 L336.31,134.18 L335.76,134.17 L335.21,134.16 L334.66,134.16 L334.12,134.15 L333.57,134.15 L333.02,134.14 L332.47,134.13 L331.92,134.12 L331.37,134.12 L330.82,134.11 L330.27,134.10 L329.72,134.09 L329.17,134.08 L328.62,134.08 L328.07,134.07 L327.52,134.06 L326.97,134.05 L326.42,134.04 L325.87,134.03 L325.32,134.02 L324.77,134.01 L324.22,134.00 L323.67,133.99 L323.12,133.98 L322.57,133.97 L322.02,133.96 L321.47,133.95 L320.93,133.94 L320.38,133.93 L319.83,133.92 L319.28,133.90 L318.73,133.89 L318.18,133.87 L317.64,133.86 L317.09,133.84 L316.54,133.82 L315.99,133.80 L315.44,133.78 L314.90,133.76 L314.35,133.73 L313.80,133.71 L313.25,133.68 L312.70,133.66 L312.16,133.63 L311.61,133.60 L311.06,133.57 L310.51,133.55 L309.96,133.52 L309.41,133.49 L308.87,133.46 L308.32,133.42 L307.77,133.39 L307.22,133.36 L306.68,133.32 L306.13,133.28 L305.58,133.24 L305.03,133.20 L304.49,133.16 L303.94,133.12 L303.40,133.07 L302.85,133.02 L302.31,132.97 L301.77,132.91 L301.23,132.85 L300.69,132.79 L300.15,132.73 L299.61,132.66 L299.08,132.59 L298.54,132.50 L298.01,132.41 L297.48,132.30 L296.95,132.19 L296.43,132.07 L295.91,131.94 L295.40,131.80 L294.91,131.66 L294.43,131.49 L293.94,131.30 L293.45,131.09 L292.97,130.86 L292.49,130.62 L292.02,130.36 L291.56,130.09 L291.11,129.81 L290.68,129.52 L290.27,129.23 L289.88,128.92 L289.50,128.58 L289.12,128.22 L288.75,127.83 L288.39,127.43 L288.03,127.03 L287.69,126.62 L287.37,126.21 L287.06,125.78 L286.75,125.35 L286.46,124.90 L286.17,124.45 L285.89,123.99 L285.62,123.52 L285.36,123.06 L285.11,122.58 L284.86,122.10 L284.62,121.62 L284.38,121.13 L284.15,120.64 L283.92,120.15 L283.70,119.65 L283.48,119.15 L283.25,118.65 L283.04,118.15 L282.82,117.65 L282.61,117.15 L282.41,116.65 L282.22,116.14 L282.04,115.64 L281.86,115.14 L281.70,114.63 L281.55,114.12 L281.40,113.60 L281.26,113.08 L281.12,112.56 L280.99,112.03 L280.86,111.50 L280.73,110.97 L280.61,110.43 L280.49,109.90 L280.36,109.36 L280.24,108.82 L280.11,108.28 L279.99,107.74 L279.85,107.20 L279.72,106.66 L279.58,106.12 L279.43,105.59 L279.29,105.05 L279.14,104.52 L278.99,103.99 L278.84,103.46 L278.70,102.93 L278.56,102.41 L278.42,101.88 L278.29,101.36 L278.17,100.83 L278.06,100.31 L277.95,99.78 L277.85,99.25 L277.76,98.72 L277.66,98.18 L277.57,97.64 L277.48,97.11 L277.40,96.57 L277.32,96.03 L277.23,95.48 L277.16,94.94 L277.08,94.40 L277.00,93.86 L276.93,93.31 L276.85,92.77 L276.78,92.22 L276.71,91.68 L276.64,91.13 L276.56,90.59 L276.49,90.04 L276.42,89.50 L276.35,88.96 L276.29,88.41 L276.22,87.87 L276.16,87.32 L276.10,86.78 L276.04,86.23 L275.98,85.69 L275.92,85.14 L275.86,84.59 L275.80,84.04 L275.73,83.50 L275.67,82.95 L275.60,82.40 L275.54,81.85 L275.47,81.30 L275.39,80.75 L275.32,80.20 L275.24,79.65 L275.15,79.10 L275.05,78.55 L274.95,78.00 L274.85,77.46 L274.74,76.91 L274.63,76.37 L274.52,75.83 L274.40,75.29 L274.28,74.75 L274.17,74.21 L274.05,73.67 L273.94,73.13 L273.83,72.60 L273.72,72.06 L273.61,71.53 L273.51,70.99 L273.42,70.46 L273.33,69.93 L273.24,69.40 L273.17,68.86 L273.10,68.33 L273.03,67.79 L272.97,67.25 L272.91,66.70 L272.85,66.16 L272.79,65.62 L272.74,65.07 L272.69,64.53 L272.64,63.98 L272.59,63.43 L272.54,62.88 L272.49,62.34 L272.43,61.79 L272.38,61.24 L272.33,60.69 L272.27,60.14 L272.22,59.59 L272.16,59.04 L272.09,58.48 L272.03,57.93 L271.96,57.39 L271.89,56.84 L271.81,56.29 L271.74,55.74 L271.66,55.19 L271.58,54.65 L271.50,54.10 L271.41,53.56 L271.33,53.01 L271.24,52.46 L271.16,51.92 L271.07,51.38Z" fill="#E36F47" stroke="none"/>
<path d="M269.15,127.00 L269.15,116.00 L269.85,39.40 L270.16,51.38 L270.28,40.82 L271.18,52.04 L271.30,44.86 L272.19,59.35 L272.31,50.72 L273.20,69.12 L273.32,56.92 L274.22,74.44 L274.34,68.22 L275.23,79.62 L275.35,77.29 L276.25,88.07 L276.37,84.22 L277.26,95.64 L277.38,89.85 L278.27,101.26 L278.39,95.11 L279.29,105.05 L279.41,99.64 L280.30,109.08 L280.42,103.27 L281.31,113.28 L281.43,106.33 L282.33,116.42 L282.45,109.17 L283.34,118.85 L283.46,111.71 L284.35,121.07 L284.47,113.64 L285.37,123.06 L285.49,115.04 L286.38,124.78 L286.50,116.17 L287.39,126.24 L287.51,117.11 L288.41,127.46 L288.53,117.90 L289.42,128.51 L289.54,118.58 L290.44,129.35 L290.56,119.16 L291.45,130.02 L291.57,119.66 L292.46,130.60 L292.58,120.09 L293.48,131.10 L293.60,120.48 L294.49,131.51 L294.61,120.83 L295.50,131.83 L295.62,121.16 L296.52,132.09 L296.64,121.46 L297.53,132.31 L297.65,121.73 L298.54,132.50 L298.66,121.99 L299.56,132.66 L299.68,122.23 L300.57,132.78 L300.69,122.45 L301.58,132.89 L301.70,122.66 L302.60,132.99 L302.72,122.87 L303.61,133.09 L303.73,123.06 L304.63,133.17 L304.75,123.24 L305.64,133.25 L305.76,123.41 L306.65,133.32 L306.77,123.57 L307.67,133.38 L307.79,123.71 L308.68,133.45 L308.80,123.85 L309.69,133.50 L309.81,123.96 L310.71,133.56 L310.83,124.07 L311.72,133.61 L311.84,124.18 L312.73,133.66 L312.85,124.29 L313.75,133.71 L313.87,124.39 L314.76,133.75 L314.88,124.48 L315.77,133.79 L315.89,124.56 L316.79,133.83 L316.91,124.64 L317.80,133.86 L317.92,124.70 L318.82,133.89 L318.94,124.75 L319.83,133.92 L319.95,124.78 L320.84,133.94 L320.96,124.80 L321.86,133.96 L321.98,124.82 L322.87,133.98 L322.99,124.85 L323.88,133.99 L324.00,124.87 L324.90,134.01 L325.02,124.89 L325.91,134.03 L326.03,124.91 L326.92,134.05 L327.04,124.92 L327.94,134.07 L328.06,124.94 L328.95,134.08 L329.07,124.96 L329.96,134.10 L330.08,124.97 L330.98,134.11 L331.10,124.99 L331.99,134.13 L332.11,125.00 L333.01,134.14 L333.13,125.01 L334.02,134.15 L334.14,125.02 L335.03,134.16 L335.15,125.03 L336.05,134.17 L336.17,125.04 L337.06,134.18 L337.18,125.05 L338.07,134.19 L338.19,125.06 L339.09,134.20 L339.21,125.06 L340.10,134.21 L340.22,125.07 L341.11,134.21 L341.23,125.07 L342.13,134.21 L342.25,125.08 L343.14,134.22 L343.26,125.08 L344.15,134.22 L344.27,125.08 L345.17,134.22 L345.29,125.08 L346.18,134.22 L346.30,125.08 L347.20,134.22 L347.32,125.08 L348.21,134.22 L348.33,125.08 L349.22,134.22 L349.34,125.07 L350.24,134.22 L350.36,125.07 L351.25,134.22 L351.37,125.06 L352.26,134.22 L352.38,125.06 L353.28,134.22 L353.40,125.05 L354.29,134.22 L354.41,125.04 L355.30,134.22 L355.42,125.04 L356.32,134.22 L356.44,125.03 L357.33,134.22 L357.45,125.02 L358.35,134.22 L358.47,125.00 L359.36,134.22 L359.48,124.99 L360.37,134.22 L360.49,124.98 L361.39,134.22 L361.51,124.97 L362.40,134.22 L362.52,124.95 L363.41,134.22 L363.53,124.94 L364.43,134.22 L364.55,124.92 L365.44,134.22 L365.56,124.90 L366.45,134.22 L366.57,124.88 L367.47,134.22 L367.59,124.86 L368.48,134.22 L368.60,124.84 L369.49,134.22 L369.61,124.82 L370.51,134.22 L370.63,124.80" stroke="#E36F47" stroke-width="1.6" stroke-linejoin="round"/>
<path d="M371.30,124.09 L371.49,128.73 L371.69,133.25 L371.88,137.66 L372.07,141.96 L372.26,146.14 L372.46,150.22 L372.65,154.20 L372.84,158.07 L373.03,161.85 L373.23,165.53 L373.42,169.12 L373.61,172.62 L373.80,176.03 L374.00,179.36 L374.19,182.60 L374.38,185.77 L374.57,188.85 L374.77,191.86 L374.96,194.80 L375.15,197.66 L375.34,200.45 L375.54,203.18 L375.73,205.84 L375.92,208.43 L376.12,210.96 L376.31,213.43 L376.50,215.84 L376.69,218.20 L376.89,220.49 L377.08,222.74 L377.27,224.93 L377.46,227.06 L377.66,229.15 L377.85,231.19 L378.04,233.18 L378.23,235.12 L378.43,237.02 L378.62,238.88 L378.81,240.69 L379.00,242.46 L379.20,244.19 L379.39,245.88 L379.58,247.53 L379.78,249.15 L379.97,250.73 L380.16,252.27 L380.35,253.78 L380.55,255.26 L380.74,256.70 L380.93,258.11 L381.12,259.49 L381.32,260.84 L381.51,262.16 L381.70,263.45 L381.89,264.72 L382.09,265.95 L382.28,267.17 L382.47,268.35 L382.66,269.51 L382.86,270.65 L383.05,271.76 L383.24,272.84 L383.43,273.91 L383.63,274.95 L383.82,275.98 L384.01,276.98 L384.21,277.96 L384.40,278.92 L384.59,279.86 L384.78,280.79 L384.98,281.69 L385.17,282.58 L385.36,283.45 L385.55,284.30 L385.75,285.13 L385.94,285.95 L386.13,286.76 L386.32,287.54 L386.52,288.32 L386.71,289.08 L386.90,289.82 L387.09,290.55 L387.29,291.27 L387.48,291.97 L387.67,292.66 L387.87,293.34 L388.06,294.00 L388.25,294.66 L388.44,295.30 L388.64,295.93 L388.83,296.55 L389.02,297.15 L389.21,297.75 L389.41,298.34 L389.60,298.91 L389.79,299.48 L389.98,300.04 L390.18,300.59 L390.37,301.12 L390.56,301.65 L390.75,302.17 L390.95,302.68 L391.14,303.19 L391.33,303.68 L391.52,304.17 L391.72,304.65 L391.91,305.12 L392.10,305.58 L392.30,306.04 L392.49,306.49 L392.68,306.93 L392.87,307.36 L393.07,307.79 L393.26,308.21 L393.45,308.63 L393.64,309.04 L393.84,309.44 L394.03,309.84 L394.22,310.23 L394.41,310.61 L394.61,310.99 L394.80,311.37 L394.99,311.73 L395.18,312.10 L395.38,312.45 L395.57,312.81 L395.76,313.15 L395.96,313.50 L396.15,313.84 L396.34,314.17 L396.53,314.50 L396.73,314.82 L396.92,315.14 L397.11,315.46 L397.30,315.77 L397.50,316.07 L397.69,316.38 L397.88,316.67 L398.07,316.97 L398.27,317.26 L398.46,317.55 L398.65,317.83 L398.84,318.11 L399.04,318.39 L399.23,318.66 L399.42,318.93 L399.61,319.19 L399.81,319.45 L400.00,319.71 L400.30,320.11 L401.17,321.22 L402.04,322.27 L402.91,323.27 L403.78,324.21 L404.65,325.11 L405.52,325.96 L406.39,326.78 L407.26,327.55 L408.13,328.29 L409.00,329.00 L409.87,329.67 L410.74,330.32 L411.61,330.94 L412.48,331.53 L413.35,332.09 L414.22,332.63 L415.09,333.15 L415.96,333.65 L416.83,334.13 L417.70,334.59 L418.57,335.03 L419.44,335.45 L420.31,335.86 L421.18,336.25 L422.05,336.62 L422.92,336.98 L423.79,337.33 L424.66,337.66 L425.53,337.98 L426.40,338.29 L427.27,338.59 L428.14,338.88 L429.01,339.15 L429.87,339.41 L430.74,339.67 L431.61,339.91 L432.48,340.15 L433.35,340.38 L434.22,340.59 L435.09,340.81 L435.96,341.01 L436.83,341.20 L437.70,341.39 L438.57,341.57 L439.44,341.75 L440.31,341.91 L441.18,342.08 L442.05,342.23 L442.92,342.38 L443.79,342.53 L444.66,342.67 L445.53,342.80 L446.40,342.93 L447.27,343.05 L448.14,343.17 L449.01,343.29 L449.88,343.40 L450.75,343.51 L451.62,343.61 L452.49,343.71 L453.36,343.81 L454.23,343.90 L455.10,343.99 L455.97,344.08 L456.84,344.16 L457.71,344.24 L458.58,344.32 L459.45,344.39 L460.32,344.47 L461.19,344.53 L462.06,344.60 L462.93,344.67 L463.80,344.73 L464.67,344.79 L465.54,344.85 L466.41,344.90 L467.28,344.96 L468.15,345.01 L469.02,345.06 L469.89,345.11 L470.76,345.15 L471.63,345.20 L472.50,345.24 L473.37,345.28 L474.24,345.32 L475.11,345.36 L475.98,345.40 L476.85,345.44 L477.72,345.47 L478.59,345.51 L479.46,345.54 L480.33,345.57 L481.20,345.60 L482.07,345.63 L482.94,345.66 L483.81,345.69 L484.68,345.72 L485.55,345.74 L486.42,345.77 L487.28,345.79 L488.15,345.81 L489.02,345.84 L489.89,345.86 L490.76,345.88 L491.63,345.90 L492.50,345.92 L493.37,345.94 L494.24,345.96 L495.11,345.98 L495.98,345.99 L496.85,346.01 L497.72,346.03 L498.59,346.04 L499.46,346.06 L500.33,346.07 L501.20,346.09 L502.07,346.10 L502.94,346.12 L503.81,346.13 L504.68,346.14 L505.55,346.15 L506.42,346.17 L507.29,346.18 L508.16,346.19 L509.03,346.20 L509.90,346.21 L510.77,346.22 L511.64,346.23 L512.51,346.24 L513.38,346.25 L514.25,346.26 L515.12,346.27 L515.99,346.28 L516.86,346.29 L517.73,346.30 L518.60,346.30 L519.47,346.31 L520.34,346.32 L521.21,346.33 L522.08,346.34 L522.95,346.34 L523.82,346.35 L524.69,346.36 L525.56,346.36 L526.43,346.37 L527.30,346.38 L528.17,346.38 L529.04,346.39 L529.91,346.40 L530.78,346.40 L531.65,346.41 L532.52,346.41 L533.39,346.42 L534.26,346.42 L535.13,346.43 L536.00,346.44 L536.87,346.44 L537.74,346.45 L538.61,346.45 L539.48,346.46 L540.35,346.46 L541.22,346.47 L542.09,346.47 L542.96,346.47 L543.83,346.48 L544.69,346.48 L545.56,346.49 L546.43,346.49 L547.30,346.50 L548.17,346.50 L549.04,346.51 L549.91,346.51 L550.78,346.51 L551.65,346.52 L552.52,346.52 L553.39,346.53 L554.26,346.53 L555.13,346.53 L556.00,346.54 L556.87,346.54 L557.74,346.55 L558.61,346.55 L559.48,346.55 L560.35,346.56 L561.22,346.56 L562.09,346.56 L562.96,346.57 L563.83,346.57 L564.70,346.57 L565.57,346.58 L566.44,346.58 L567.31,346.58 L568.18,346.59 L569.05,346.59 L569.92,346.59 L570.79,346.60 L571.66,346.60 L572.53,346.60 L573.40,346.61" stroke="#E36F47" stroke-width="1.6"/>
</g>
<g stroke="#000000" stroke-width="1.05" fill="none">
<line x1="51.5" y1="30.4" x2="51.5" y2="355.95"/>
<line x1="50.95" y1="355.4" x2="588.6" y2="355.4"/>
<line x1="66.5" y1="355.4" x2="66.5" y2="350.5"/>
<line x1="167.6" y1="355.4" x2="167.6" y2="350.5"/>
<line x1="269.15" y1="355.4" x2="269.15" y2="350.5"/>
<line x1="370.5" y1="355.4" x2="370.5" y2="350.5"/>
<line x1="471.55" y1="355.4" x2="471.55" y2="350.5"/>
<line x1="573.0" y1="355.4" x2="573.0" y2="350.5"/>
<line x1="51.5" y1="354.1" x2="56.5" y2="354.1"/>
<line x1="51.5" y1="294.55" x2="56.5" y2="294.55"/>
<line x1="51.5" y1="235.5" x2="56.5" y2="235.5"/>
<line x1="51.5" y1="176.45" x2="56.5" y2="176.45"/>
<line x1="51.5" y1="117.3" x2="56.5" y2="117.3"/>
<line x1="51.5" y1="57.75" x2="56.5" y2="57.75"/>
</g>
<g>
<text transform="rotate(0.05 66.3 367.2)" x="62.78" y="371.20" font-family="Liberation Sans, sans-serif" font-size="12" textLength="6.98" lengthAdjust="spacingAndGlyphs" fill="#000" stroke="#000" stroke-width="0.17">0</text>
<text transform="rotate(0.05 167.7 367.2)" x="156.33" y="371.20" font-family="Liberation Sans, sans-serif" font-size="12" textLength="22.26" lengthAdjust="spacingAndGlyphs" fill="#000" stroke="#000" stroke-width="0.17">100</text>
<text transform="rotate(0.05 269.0 367.2)" x="257.96" y="371.20" font-family="Liberation Sans, sans-serif" font-size="12" textLength="21.97" lengthAdjust="spacingAndGlyphs" fill="#000" stroke="#000" stroke-width="0.17">200</text>
<text transform="rotate(0.05 370.4 367.2)" x="359.51" y="371.20" font-family="Liberation Sans, sans-serif" font-size="12" textLength="21.82" lengthAdjust="spacingAndGlyphs" fill="#000" stroke="#000" stroke-width="0.17">300</text>
<text transform="rotate(0.05 471.7 367.2)" x="461.08" y="371.20" font-family="Liberation Sans, sans-serif" font-size="12" textLength="21.54" lengthAdjust="spacingAndGlyphs" fill="#000" stroke="#000" stroke-width="0.17">400</text>
<text transform="rotate(0.05 573.0 367.2)" x="562.11" y="371.20" font-family="Liberation Sans, sans-serif" font-size="12" textLength="21.82" lengthAdjust="spacingAndGlyphs" fill="#000" stroke="#000" stroke-width="0.17">500</text>
<text transform="rotate(0.05 39.1 354.3)" x="35.64" y="358.30" font-family="Liberation Sans, sans-serif" font-size="12" textLength="6.86" lengthAdjust="spacingAndGlyphs" fill="#000" stroke="#000" stroke-width="0.17">0</text>
<text transform="rotate(0.05 35.3 294.8)" x="27.57" y="298.75" font-family="Liberation Sans, sans-serif" font-size="12" textLength="15.03" lengthAdjust="spacingAndGlyphs" fill="#000" stroke="#000" stroke-width="0.17">10</text>
<text transform="rotate(0.05 35.3 235.7)" x="27.86" y="239.70" font-family="Liberation Sans, sans-serif" font-size="12" textLength="14.72" lengthAdjust="spacingAndGlyphs" fill="#000" stroke="#000" stroke-width="0.17">20</text>
<text transform="rotate(0.05 35.3 176.6)" x="28.00" y="180.65" font-family="Liberation Sans, sans-serif" font-size="12" textLength="14.57" lengthAdjust="spacingAndGlyphs" fill="#000" stroke="#000" stroke-width="0.17">30</text>
<text transform="rotate(0.05 35.3 117.5)" x="28.28" y="121.50" font-family="Liberation Sans, sans-serif" font-size="12" textLength="14.29" lengthAdjust="spacingAndGlyphs" fill="#000" stroke="#000" stroke-width="0.17">40</text>
<text transform="rotate(0.05 35.3 58.0)" x="28.00" y="61.95" font-family="Liberation Sans, sans-serif" font-size="12" textLength="14.57" lengthAdjust="spacingAndGlyphs" fill="#000" stroke="#000" stroke-width="0.17">50</text>
<text transform="rotate(0.05 281.4 13.6)" x="250.46" y="17.60" font-family="Liberation Sans, sans-serif" font-size="20" textLength="62.72" lengthAdjust="spacingAndGlyphs" fill="#000" stroke="#000" stroke-width="0.20">Active</text>
<text transform="rotate(0.05 355.9 13.6)" x="320.94" y="17.60" font-family="Liberation Sans, sans-serif" font-size="20" textLength="70.89" lengthAdjust="spacingAndGlyphs" fill="#000" stroke="#000" stroke-width="0.20">CaMKII</text>
<text transform="rotate(0.05 307.0 387.7)" x="287.16" y="391.70" font-family="Liberation Sans, sans-serif" font-size="15.6" textLength="40.07" lengthAdjust="spacingAndGlyphs" fill="#000" stroke="#000" stroke-width="0.18">Time</text>
<text transform="rotate(0.05 343.0 387.7)" x="332.44" y="391.70" font-family="Liberation Sans, sans-serif" font-size="15.6" textLength="21.04" lengthAdjust="spacingAndGlyphs" fill="#000" stroke="#000" stroke-width="0.18">(s)</text>
<text transform="translate(15.45,269.20) rotate(-90)" x="-0.79" y="0" font-family="Liberation Sans, sans-serif" font-size="15.6" textLength="54.98" lengthAdjust="spacingAndGlyphs" fill="#000" stroke="#000" stroke-width="0.18">CaMKII</text>
<text transform="translate(15.45,269.20) rotate(-90)" x="60.53" y="0" font-family="Liberation Sans, sans-serif" font-size="15.6" textLength="58.93" lengthAdjust="spacingAndGlyphs" fill="#000" stroke="#000" stroke-width="0.18">activity</text>
<text transform="translate(15.45,269.20) rotate(-90)" x="125.88" y="0" font-family="Liberation Sans, sans-serif" font-size="15.6" textLength="27.16" lengthAdjust="spacingAndGlyphs" fill="#000" stroke="#000" stroke-width="0.18">(%)</text>
</g>
<rect x="497.3" y="41.6" width="73.1" height="38.3" fill="#ffffff" stroke="#000" stroke-width="1.1"/>
<line x1="502.8" y1="54.5" x2="539.7" y2="54.5" stroke="#009AFA" stroke-width="1.45"/>
<line x1="502.8" y1="67.4" x2="539.7" y2="67.4" stroke="#E36F47" stroke-width="1.45"/>
<g>
<text transform="rotate(0.05 552.5 54.8)" x="544.37" y="58.80" font-family="Liberation Sans, sans-serif" font-size="11.4" textLength="16.37" lengthAdjust="spacingAndGlyphs" fill="#000" stroke="#000" stroke-width="0.17">Ctl</text>
<text transform="rotate(0.05 554.5 67.5)" x="544.42" y="71.50" font-family="Liberation Sans, sans-serif" font-size="11.4" textLength="19.37" lengthAdjust="spacingAndGlyphs" fill="#000" stroke="#000" stroke-width="0.17">Caf</text>
</g>
</svg>
</body></html>
